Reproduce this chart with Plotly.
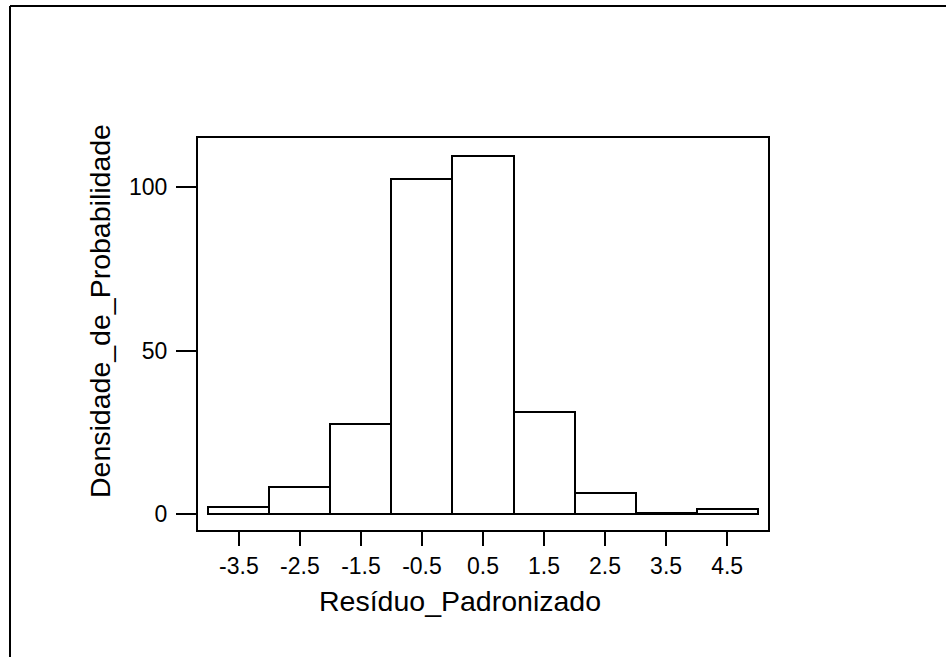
import plotly.graph_objects as go

bin_centers = [-3.5, -2.5, -1.5, -0.5, 0.5, 1.5, 2.5, 3.5, 4.5]
densities = [2.2, 8.2, 27.4, 102.5, 109.5, 31.3, 6.4, 0.3, 1.4]
x_ticks = [-3.5, -2.5, -1.5, -0.5, 0.5, 1.5, 2.5, 3.5, 4.5]
x_ticklabels = ["-3.5", "-2.5", "-1.5", "-0.5", "0.5", "1.5", "2.5", "3.5", "4.5"]
y_ticks = [0, 50, 100]
x_title = "Resíduo_Padronizado"
y_title = "Densidade_de_Probabilidade"

FONT = "Liberation Sans, Arial, sans-serif"
W, H = 946, 657
L, R, T, B = 198, 178, 138, 127
pw, ph = W - L - R, H - T - B

def px(x):
    return (x - L) / pw

def py(y):
    return (H - B - y) / ph

fig = go.Figure()
fig.add_trace(go.Bar(
    x=bin_centers, y=densities, width=1.0,
    marker=dict(color="white", line=dict(color="black", width=2)),
    showlegend=False,
))

fig.update_layout(
    width=W, height=H,
    margin=dict(l=L, r=R, t=T, b=B, pad=0),
    paper_bgcolor="white", plot_bgcolor="white",
    font=dict(family=FONT, color="black"),
    bargap=0,
    xaxis=dict(
        range=[-4.17, 5.17], tickmode="array", tickvals=x_ticks, ticktext=x_ticklabels,
        ticks="outside", ticklen=14, tickwidth=2, tickcolor="black",
        showline=True, linecolor="black", linewidth=2, mirror=True,
        showgrid=False, zeroline=False, tickfont=dict(size=23, family=FONT),
        ticklabelstandoff=0,
    ),
    yaxis=dict(
        range=[-4.9, 115.0], tickmode="array", tickvals=y_ticks,
        ticks="outside", ticklen=20, tickwidth=2, tickcolor="black",
        showline=True, linecolor="black", linewidth=2, mirror=True,
        showgrid=False, zeroline=False, tickfont=dict(size=23, family=FONT),
        ticklabelstandoff=4,
    ),
    annotations=[
        dict(text=x_title, xref="paper", yref="paper", x=px(459.5), y=py(601),
             xanchor="center", yanchor="middle", showarrow=False,
             font=dict(size=28.5, family=FONT, color="black")),
        dict(text=y_title, xref="paper", yref="paper", x=px(100), y=py(311),
             xanchor="center", yanchor="middle", showarrow=False, textangle=-90,
             font=dict(size=28.5, family=FONT, color="black")),
    ],
    shapes=[
        dict(type="line", xref="paper", yref="paper", x0=px(10), x1=px(10), y0=py(6), y1=py(700),
             line=dict(color="black", width=2)),
        dict(type="line", xref="paper", yref="paper", x0=px(10), x1=px(1000), y0=py(6), y1=py(6),
             line=dict(color="black", width=2)),
    ],
)

fig.write_html("out.html")
